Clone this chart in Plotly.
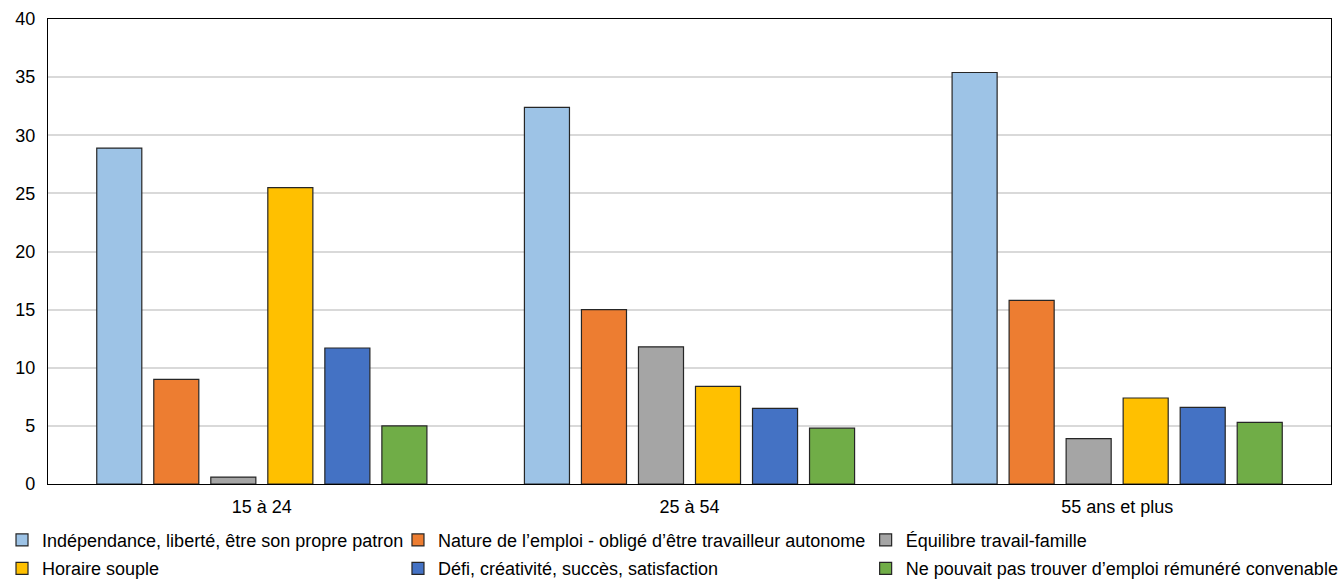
import plotly.graph_objects as go

categories = ["15 à 24", "25 à 54", "55 ans et plus"]
series_names = [
    "Indépendance, liberté, être son propre patron",
    "Nature de l’emploi - obligé d’être travailleur autonome",
    "Équilibre travail-famille",
    "Horaire souple",
    "Défi, créativité, succès, satisfaction",
    "Ne pouvait pas trouver d’emploi rémunéré convenable",
]
independance = [28.9, 32.4, 35.4]
nature = [9.0, 15.0, 15.8]
equilibre = [0.6, 11.8, 3.9]
horaire = [25.5, 8.4, 7.4]
defi = [11.7, 6.5, 6.6]
ne_pouvait = [5.0, 4.8, 5.3]
y_ticks = [0, 5, 10, 15, 20, 25, 30, 35, 40]

values = [independance, nature, equilibre, horaire, defi, ne_pouvait]
colors = ["#9DC3E6", "#ED7D31", "#A5A5A5", "#FFC000", "#4472C4", "#70AD47"]
legend_ids = ["legend", "legend2", "legend3", "legend", "legend2", "legend3"]

FONT = "Liberation Sans, Arial, sans-serif"

fig = go.Figure()
for i, (name, vals, col, lg) in enumerate(zip(series_names, values, colors, legend_ids)):
    fig.add_trace(go.Bar(
        x=categories, y=vals, name=name, legend=lg, legendgroup=f"g{i}",
        marker=dict(color=col, line=dict(color="#262626", width=1.2)),
    ))

legend_common = dict(
    orientation="v", yref="container", xref="container",
    yanchor="top", y=0.102, xanchor="left",
    font=dict(family=FONT, size=18, color="#000"),
    bgcolor="rgba(0,0,0,0)", tracegroupgap=2, itemwidth=30,
)

fig.update_layout(
    width=1340, height=581,
    margin=dict(l=48, r=9, t=19, b=97, autoexpand=False),
    paper_bgcolor="white", plot_bgcolor="white",
    barmode="group", bargap=0.2, bargroupgap=0.21,
    font=dict(family=FONT, size=18, color="#000"),
    legend=dict(x=0.0015, **legend_common),
    legend2=dict(x=0.297, **legend_common),
    legend3=dict(x=0.646, **legend_common),
    xaxis=dict(showline=True, linecolor="#000", linewidth=1.2, mirror=True,
               ticks="", tickfont=dict(size=18), automargin=False,
               ticklabelstandoff=6),
    yaxis=dict(range=[0, 40], tickvals=y_ticks, showline=True, linecolor="#000",
               linewidth=1.2, mirror=True, gridcolor="#D9D9D9", gridwidth=1.5,
               ticks="", tickfont=dict(size=18), zeroline=False, automargin=False,
               ticklabelstandoff=8),
)

fig.write_html(
    "out.html",
    config={"displayModeBar": False},
    post_script="document.body.style.margin='0';document.body.style.padding='0';",
)
